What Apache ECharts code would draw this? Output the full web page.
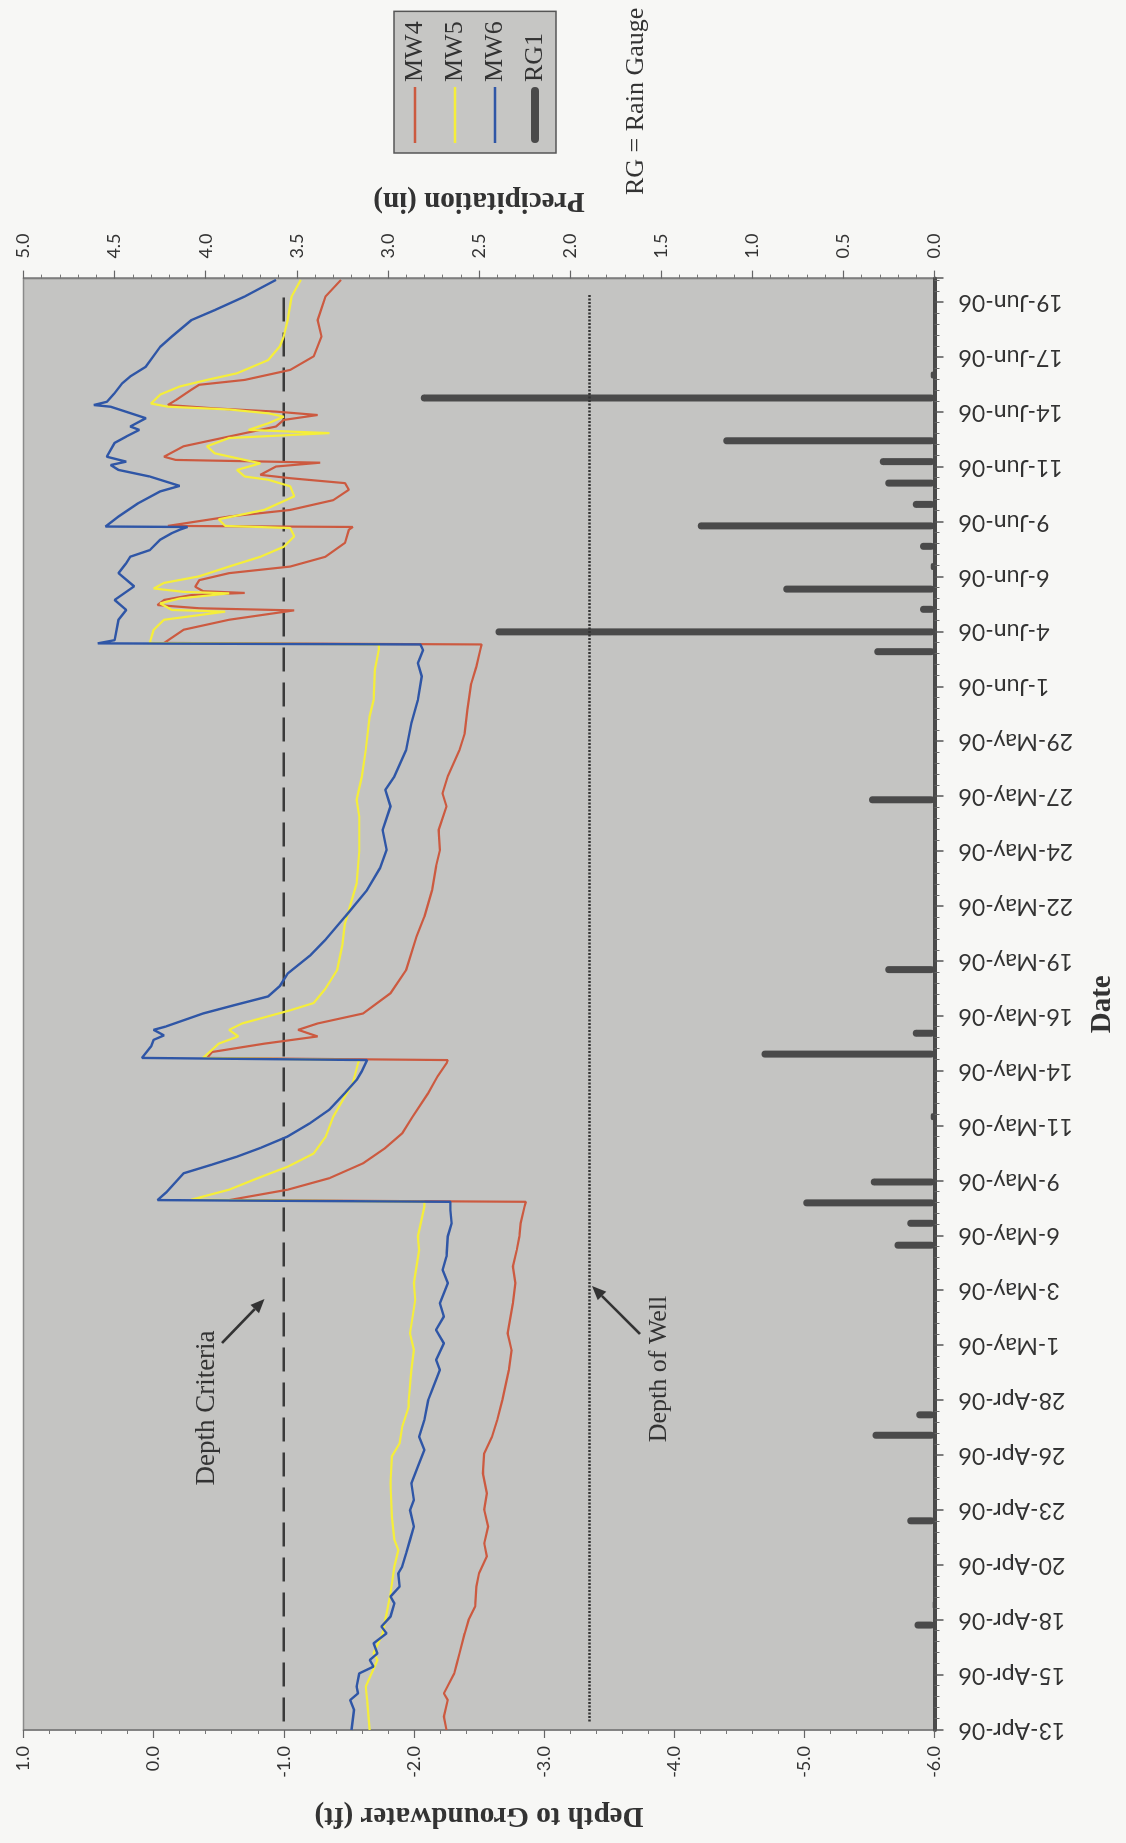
<!DOCTYPE html>
<html><head><meta charset="utf-8">
<script src="https://cdn.jsdelivr.net/npm/echarts@6/dist/echarts.min.js"></script>
<style>
html,body{margin:0;padding:0;width:1126px;height:1843px;overflow:hidden;background:#f7f7f5;}
#chart{position:absolute;left:0;top:0;width:1843px;height:1126px;transform-origin:0 0;transform:translate(0px,1843px) rotate(-90deg);}
</style></head><body><div id="chart"></div>
<script>
// Date tick labels (one every dayStep days, starting 13-Apr-06)
const dateLabels = ['13-Apr-06','15-Apr-06','18-Apr-06','20-Apr-06','23-Apr-06','26-Apr-06','28-Apr-06','1-May-06','3-May-06','6-May-06','9-May-06','11-May-06','14-May-06','16-May-06','19-May-06','22-May-06','24-May-06','27-May-06','29-May-06','1-Jun-06','4-Jun-06','6-Jun-06','9-Jun-06','11-Jun-06','14-Jun-06','17-Jun-06','19-Jun-06'];
const dayStep = 2.58;   // days between date tick labels
const dayMax = 68.2;    // days shown after 13-Apr-06 00:00

// [days since 13-Apr-06, depth to groundwater (ft)]
const mw4 = [[0,-2.25],[0.63,-2.23],[1.41,-2.26],[1.72,-2.23],[2.66,-2.31],[3.13,-2.33],[3.60,-2.35],[4.54,-2.39],[5.17,-2.42],[5.79,-2.47],[6.74,-2.48],[7.36,-2.50],[8.15,-2.56],[8.77,-2.54],[9.56,-2.57],[10.34,-2.54],[11.12,-2.56],[12.06,-2.53],[13.00,-2.54],[13.78,-2.60],[14.57,-2.64],[15.51,-2.68],[16.92,-2.73],[17.86,-2.75],[18.64,-2.72],[20.05,-2.76],[21.00,-2.78],[21.78,-2.76],[22.55,-2.79],[23.19,-2.81],[23.81,-2.82],[24.59,-2.85],[24.82,-2.86],[24.90,-0.58],[25.39,-1.03],[25.93,-1.35],[26.63,-1.61],[27.35,-1.78],[28.04,-1.91],[28.82,-1.99],[29.93,-2.11],[30.70,-2.18],[31.32,-2.25],[31.48,-2.26],[31.58,-0.41],[31.86,-0.45],[32.25,-0.85],[32.59,-1.26],[32.90,-1.11],[33.20,-1.26],[33.67,-1.61],[34.62,-1.82],[35.71,-1.94],[37.28,-2.02],[38.21,-2.08],[39.47,-2.14],[40.58,-2.17],[41.36,-2.20],[42.29,-2.19],[43.40,-2.25],[44.01,-2.22],[44.81,-2.26],[46.05,-2.35],[46.83,-2.39],[47.94,-2.41],[49.17,-2.44],[49.97,-2.48],[50.75,-2.51],[51.01,-2.52],[51.08,-0.08],[51.70,-0.23],[52.17,-0.58],[52.61,-1.08],[52.71,-0.35],[52.86,-0.03],[53.10,-0.08],[53.33,-0.29],[53.43,-0.70],[53.51,-0.38],[53.72,-0.32],[54.03,-0.35],[54.36,-0.58],[54.67,-1.05],[55.13,-1.32],[55.78,-1.47],[56.40,-1.50],[56.53,-1.53],[56.58,-0.11],[57.02,-0.58],[57.33,-1.05],[57.79,-1.38],[58.28,-1.50],[58.59,-1.47],[58.82,-1.05],[58.98,-0.82],[59.37,-0.94],[59.55,-1.28],[59.60,-0.88],[59.68,-0.17],[59.83,-0.08],[60.32,-0.23],[60.78,-0.58],[61.25,-0.94],[61.56,-1.00],[61.79,-1.26],[61.95,-0.94],[62.10,-0.47],[62.26,-0.11],[62.49,-0.17],[62.98,-0.29],[63.21,-0.35],[63.44,-0.70],[63.91,-1.05],[64.55,-1.23],[65.48,-1.29],[66.25,-1.26],[67.36,-1.32],[68.14,-1.44]];
const mw5 = [[0,-1.66],[1.41,-1.64],[2.04,-1.63],[3.29,-1.72],[3.60,-1.69],[4.54,-1.76],[5.48,-1.79],[6.42,-1.82],[7.68,-1.85],[8.46,-1.88],[8.93,-1.85],[10.03,-1.83],[11.59,-1.82],[12.85,-1.83],[13.47,-1.89],[14.26,-1.91],[15.19,-1.96],[15.51,-1.96],[16.92,-1.98],[17.86,-2.00],[18.64,-1.97],[20.21,-2.01],[21.00,-2.00],[22.55,-2.04],[23.19,-2.03],[24.59,-2.08],[24.82,-2.08],[24.92,-0.29],[25.39,-0.58],[25.93,-0.80],[26.47,-1.03],[27.09,-1.23],[27.86,-1.32],[28.82,-1.38],[29.67,-1.46],[30.39,-1.53],[31.32,-1.57],[31.48,-1.58],[31.58,-0.38],[32.25,-0.50],[32.59,-0.65],[32.90,-0.58],[33.20,-0.68],[33.82,-1.05],[34.16,-1.23],[34.83,-1.32],[35.71,-1.41],[36.89,-1.45],[37.90,-1.47],[39.78,-1.56],[41.28,-1.58],[42.93,-1.58],[43.71,-1.56],[44.81,-1.60],[46.05,-1.63],[47.63,-1.66],[48.40,-1.69],[49.82,-1.70],[50.75,-1.73],[51.01,-1.73],[51.08,0.03],[51.70,0.00],[52.17,-0.08],[52.55,-0.55],[52.63,-0.14],[52.94,-0.05],[53.17,-0.20],[53.41,-0.58],[53.48,-0.23],[53.64,0.00],[53.90,-0.08],[54.21,-0.35],[54.67,-0.58],[55.13,-0.82],[55.60,-1.00],[56.09,-1.08],[56.48,-1.05],[56.58,-0.55],[56.89,-0.50],[57.33,-0.85],[57.97,-1.08],[58.44,-1.05],[58.75,-0.88],[58.90,-0.70],[59.21,-0.64],[59.52,-0.82],[59.68,-0.70],[59.99,-0.47],[60.32,-0.41],[60.71,-0.58],[60.94,-1.35],[61.09,-0.73],[61.40,-0.88],[61.71,-1.00],[61.87,-0.88],[62.05,-0.58],[62.18,-0.11],[62.33,0.02],[62.75,-0.05],[63.13,-0.20],[63.44,-0.41],[63.75,-0.64],[64.37,-0.88],[65.02,-0.97],[65.48,-1.00],[66.25,-1.03],[67.36,-1.06],[68.14,-1.13]];
const mw6 = [[0,-1.52],[0.94,-1.54],[1.41,-1.51],[1.72,-1.57],[2.04,-1.56],[2.66,-1.58],[2.98,-1.69],[3.29,-1.66],[3.60,-1.72],[4.07,-1.69],[4.54,-1.79],[4.86,-1.75],[5.33,-1.82],[5.95,-1.85],[6.27,-1.82],[6.74,-1.89],[7.36,-1.88],[7.68,-1.91],[8.30,-1.94],[8.93,-1.97],[9.56,-2.00],[10.34,-1.97],[10.81,-2.00],[11.59,-1.98],[12.38,-2.03],[13.16,-2.08],[13.78,-2.04],[14.57,-2.08],[15.51,-2.11],[15.98,-2.14],[16.92,-2.20],[17.39,-2.17],[18.17,-2.23],[18.80,-2.17],[19.43,-2.23],[20.05,-2.20],[21.00,-2.26],[21.62,-2.22],[22.24,-2.25],[23.19,-2.26],[23.81,-2.29],[24.43,-2.28],[24.82,-2.28],[24.90,-0.03],[25.28,-0.10],[26.16,-0.23],[26.57,-0.45],[26.94,-0.64],[27.35,-0.82],[27.89,-1.03],[28.51,-1.20],[29.15,-1.35],[29.93,-1.47],[30.55,-1.56],[30.96,-1.60],[31.48,-1.64],[31.58,0.09],[32.12,0.02],[32.43,0.00],[32.64,-0.08],[32.90,0.00],[33.05,-0.09],[33.67,-0.38],[34.06,-0.62],[34.47,-0.88],[34.96,-0.97],[35.55,-1.03],[36.38,-1.20],[37.13,-1.32],[38.21,-1.47],[39.47,-1.64],[40.51,-1.74],[41.36,-1.79],[42.29,-1.76],[43.40,-1.82],[44.17,-1.78],[44.81,-1.85],[46.05,-1.94],[47.31,-1.98],[48.40,-2.03],[49.51,-2.06],[50.13,-2.03],[50.75,-2.07],[51.01,-2.05],[51.06,0.43],[51.21,0.30],[52.17,0.27],[52.63,0.21],[53.10,0.30],[53.74,0.15],[54.36,0.27],[54.83,0.21],[55.13,0.18],[55.44,0.03],[55.93,-0.05],[56.24,-0.14],[56.40,-0.20],[56.53,-0.26],[56.55,0.37],[57.02,0.27],[57.64,0.12],[58.20,-0.05],[58.46,-0.20],[58.90,0.03],[59.21,0.27],[59.44,0.33],[59.60,0.21],[59.83,0.36],[60.48,0.30],[60.78,0.21],[61.09,0.11],[61.25,0.18],[61.64,0.06],[62.18,0.33],[62.26,0.46],[62.41,0.36],[62.82,0.30],[63.29,0.24],[63.60,0.18],[64.06,0.06],[64.99,-0.05],[65.48,-0.14],[66.25,-0.29],[66.72,-0.47],[67.36,-0.70],[68.14,-0.94]];
// [days since 13-Apr-06, precipitation (in)]
const rg1 = [[4.93,0.11],[5.88,0.01],[9.83,0.15],[13.85,0.34],[14.81,0.10],[22.78,0.22],[23.81,0.15],[24.77,0.72],[25.75,0.35],[28.82,0.02],[31.76,0.95],[32.74,0.12],[35.73,0.27],[43.71,0.36],[50.67,0.33],[51.60,2.41],[52.66,0.08],[53.61,0.83],[54.67,0.02],[55.62,0.08],[56.58,1.30],[57.59,0.12],[58.59,0.27],[59.60,0.30],[60.58,1.16],[62.59,2.82],[63.67,0.02]];
// reference depths (ft)
const criteriaDepth = -1.0;
const wellDepth = -3.35;
const refStart = 0.4, refEnd = 67.5;

const chart = echarts.init(document.getElementById('chart'), null, {renderer:'canvas'});
const serif = '"Liberation Serif", "DejaVu Serif", serif';
const sans = 'Lato, "Liberation Sans", sans-serif';

function arrow(x1, y1, x2, y2) {
  const dx = x2 - x1, dy = y2 - y1, L = Math.hypot(dx, dy);
  const ux = dx / L, uy = dy / L, hl = 14, hw = 6;
  const bx = x2 - ux * hl, by = y2 - uy * hl;
  return [
    {type:'line', shape:{x1:x1, y1:y1, x2:bx, y2:by}, style:{stroke:'#333', lineWidth:2.5}},
    {type:'polygon', shape:{points:[[x2,y2],[bx - uy*hw, by + ux*hw],[bx + uy*hw, by - ux*hw]]}, style:{fill:'#333'}}
  ];
}
const thinIcon = 'path://M0,0 L56,0 L56,2.4 L0,2.4 Z';

const option = {
  animation: false,
  backgroundColor: '#f7f7f5',
  grid: {left:113, top:23.5, width:1451.4, height:911, show:true, backgroundColor:'#c4c4c2', borderColor:'#8a8a8a', borderWidth:1.5},
  legend: {
    data: [{name:'MW4', icon:thinIcon},{name:'MW5', icon:thinIcon},{name:'MW6', icon:thinIcon},
           {name:'RG1', icon:'path://M4,0 L52,0 A4,4 0 0 1 52,8 L4,8 A4,4 0 0 1 4,0 Z'}],
    orient:'vertical', left:1690, top:394, padding:[8,10,8,10],
    itemWidth:56, itemHeight:14, itemGap:14, selectedMode:false,
    backgroundColor:'#c6c6c4', borderColor:'#555', borderWidth:1.5,
    textStyle:{fontFamily:serif, fontSize:26, color:'#333', lineHeight:26}
  },
  xAxis: {
    type:'value', min:0, max:dayMax, interval:dayStep, position:'bottom',
    axisLine:{show:true, onZero:false, lineStyle:{color:'#4a4a4a', width:4}},
    axisTick:{show:true, length:9, lineStyle:{color:'#555', width:1.5}},
    minorTick:{show:true, splitNumber:5, length:5, lineStyle:{color:'#666', width:1}},
    splitLine:{show:false},
    axisLabel:{rotate:90, margin:24, fontFamily:sans, fontSize:23, color:'#333', showMaxLabel:false,
      formatter: v => { const i = Math.round(v / dayStep); return dateLabels[i] || ''; }},
    name:'Date', nameLocation:'middle', nameGap:154,
    nameTextStyle:{fontFamily:serif, fontWeight:'bold', fontSize:29, color:'#333'}
  },
  yAxis: [{
    type:'value', min:-6, max:1, interval:1, position:'left',
    axisLine:{show:true, lineStyle:{color:'#7a7a7a', width:1.5}},
    axisTick:{show:true, length:8, lineStyle:{color:'#666', width:1.2}},
    minorTick:{show:true, splitNumber:5, length:4, lineStyle:{color:'#777', width:1}},
    splitLine:{show:false},
    axisLabel:{margin:16, fontFamily:sans, fontSize:18, color:'#333', formatter: v => v.toFixed(1)},
    name:'Depth to Groundwater (ft)', nameLocation:'middle', nameRotate:90, nameGap:71,
    nameTextStyle:{fontFamily:serif, fontWeight:'bold', fontSize:29, color:'#333'}
  },{
    type:'value', min:0, max:5, interval:0.5, position:'right',
    axisLine:{show:true, lineStyle:{color:'#7a7a7a', width:1.5}},
    axisTick:{show:true, length:8, lineStyle:{color:'#666', width:1.2}},
    minorTick:{show:true, splitNumber:5, length:4, lineStyle:{color:'#777', width:1}},
    splitLine:{show:false},
    axisLabel:{margin:20, fontFamily:sans, fontSize:18, color:'#333', formatter: v => v.toFixed(1)},
    name:'Precipitation (in)', nameLocation:'middle', nameRotate:90, nameGap:64,
    nameTextStyle:{fontFamily:serif, fontWeight:'bold', fontSize:29, color:'#333'}
  }],
  series: [
    {name:'RG1', type:'bar', yAxisIndex:1, data:rg1, barWidth:7, itemStyle:{color:'#4a4a4a', borderRadius:3.5}, z:2},
    {name:'Depth Criteria', type:'line', yAxisIndex:0, data:[[refStart,criteriaDepth],[refEnd,criteriaDepth]], symbol:'none',
      lineStyle:{color:'#3a3a3a', width:2.5, type:[24,11]}, z:3},
    {name:'Depth of Well', type:'line', yAxisIndex:0, data:[[refStart,wellDepth],[refEnd,wellDepth]], symbol:'none',
      lineStyle:{color:'#333', width:2.5, type:[2,1.5]}, z:3},
    {name:'MW4', type:'line', yAxisIndex:0, data:mw4, symbol:'none', lineStyle:{color:'#cc5a40', width:2.2}, itemStyle:{color:'#cc5a40'}, z:4},
    {name:'MW5', type:'line', yAxisIndex:0, data:mw5, symbol:'none', lineStyle:{color:'#f5ee3a', width:2.2}, itemStyle:{color:'#f5ee3a'}, z:4},
    {name:'MW6', type:'line', yAxisIndex:0, data:mw6, symbol:'none', lineStyle:{color:'#2f56a6', width:2.4}, itemStyle:{color:'#2f56a6'}, z:4}
  ],
  graphic: [
    {type:'text', x:435, y:207, style:{text:'Depth Criteria', fontFamily:serif, fontSize:27, fill:'#333', align:'center', verticalAlign:'middle'}},
    ...arrow(500, 222, 544, 264.5),
    {type:'text', x:474, y:659, style:{text:'Depth of Well', fontFamily:serif, fontSize:26, fill:'#333', align:'center', verticalAlign:'middle'}},
    ...arrow(509, 640, 557, 592),
    {type:'text', x:1648, y:636, style:{text:'RG = Rain Gauge', fontFamily:serif, fontSize:26, fill:'#333', align:'left', verticalAlign:'middle'}}
  ]
};
chart.setOption(option);
</script>
</body></html>
